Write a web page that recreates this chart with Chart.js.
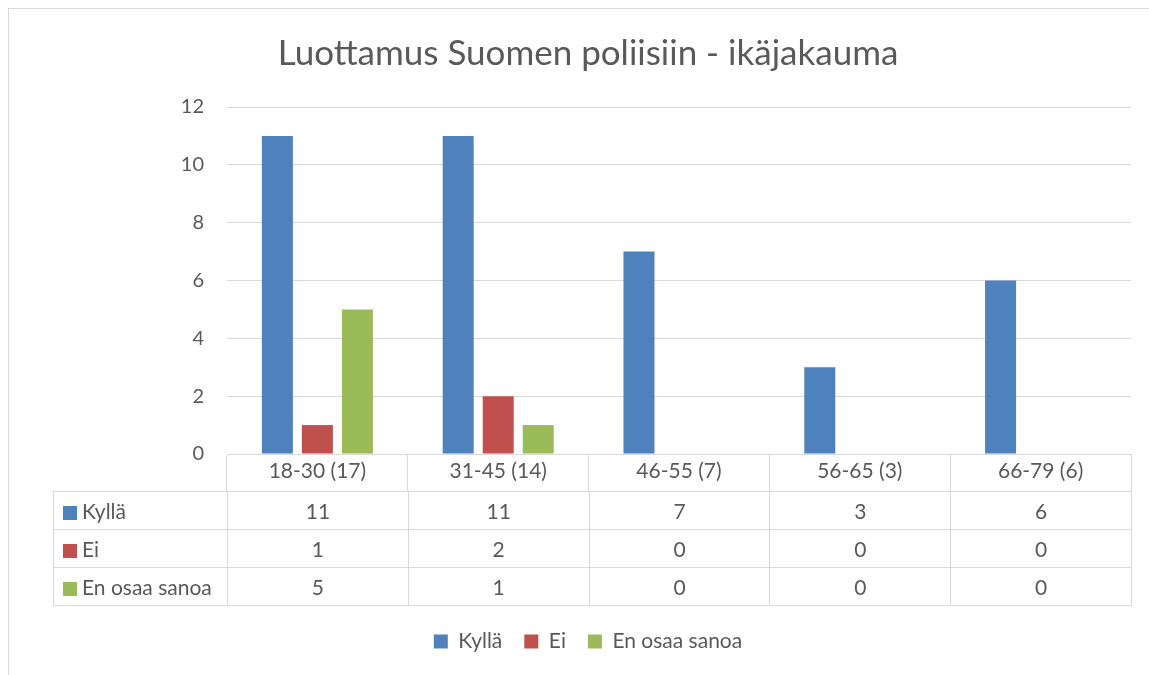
<!DOCTYPE html>
<html>
<head>
<meta charset="utf-8">
<script src="https://cdn.jsdelivr.net/npm/chart.js@4.4.0/dist/chart.umd.min.js"></script>
<style>
  body { margin: 0; background: #fff; overflow: hidden; }
  #wrap { position: relative; width: 1149px; height: 675px; }
  #frame { position: absolute; left: 8px; top: 8px; width: 1200px; height: 700px; border: 1px solid #d9d9d9; box-sizing: border-box; }
  canvas { position: absolute; left: 0; top: 0; }
  #dataTable { position: absolute; left: 53px; top: 491px; border-collapse: collapse; table-layout: fixed;
    font-family: Lato, sans-serif; font-size: 21px; color: #595959; }
  #dataTable td { border: 1px solid #d9d9d9; height: 37px; padding: 0; text-align: center; white-space: nowrap; }
  #dataTable td.name { text-align: left; padding-left: 9px; }
  .swatch { display: inline-block; width: 14px; height: 14px; margin-right: 5px; vertical-align: -1px; }
</style>
</head>
<body>
<div id="wrap">
  <div id="frame"></div>
  <canvas id="chart" width="1149" height="675"></canvas>
  <table id="dataTable"></table>
</div>
<script>
// Data
const categories = ["18-30 (17)", "31-45 (14)", "46-55 (7)", "56-65 (3)", "66-79 (6)"];
const seriesNames = ["Kyllä", "Ei", "En osaa sanoa"];
const kylla = [11, 11, 7, 3, 6];
const ei = [1, 2, 0, 0, 0];
const enOsaaSanoa = [5, 1, 0, 0, 0];
const yTicks = [0, 2, 4, 6, 8, 10, 12];

const seriesValues = [kylla, ei, enOsaaSanoa];
const colors = ["#4f81bd", "#c0504d", "#9bbb59"];
const textColor = "#595959";
const lineColor = "#d9d9d9";

Chart.defaults.font.family = "Lato, sans-serif";
Chart.defaults.color = textColor;

const ctx = document.getElementById("chart").getContext("2d");
new Chart(ctx, {
    type: "bar",
    data: {
        labels: categories,
        datasets: seriesNames.map((name, i) => ({
            label: name,
            data: seriesValues[i],
            backgroundColor: colors[i],
            categoryPercentage: 0.664,
            barPercentage: 0.775
        }))
    },
    options: {
        responsive: false,
        animation: false,
        layout: { padding: { left: 45, right: 18, top: 0, bottom: 13 } },
        plugins: {
            title: {
                display: true,
                text: "Luottamus Suomen poliisiin - ikäjakauma",
                color: textColor,
                font: { size: 35, weight: "normal" },
                padding: { top: 33, bottom: 32 }
            },
            legend: {
                position: "bottom",
                labels: { boxWidth: 14, boxHeight: 14, padding: 22, color: textColor, font: { size: 21 } }
            },
            tooltip: { enabled: false }
        },
        scales: {
            x: {
                grid: { offset: true, drawOnChartArea: false, drawTicks: true, tickLength: 37, color: lineColor },
                border: { display: true, color: lineColor },
                ticks: { padding: -32, color: textColor, font: { size: 21 } },
                afterFit: scale => { scale.height = 155; }
            },
            y: {
                min: 0,
                max: 12,
                afterBuildTicks: scale => { scale.ticks = yTicks.map(v => ({ value: v })); },
                grid: { color: lineColor, drawTicks: false },
                border: { display: false },
                ticks: { padding: 23, color: textColor, font: { size: 20 } },
                afterFit: scale => { scale.width = 182; }
            }
        }
    }
});

// Data table below the axis
const table = document.getElementById("dataTable");
const colgroup = document.createElement("colgroup");
colgroup.innerHTML = '<col style="width:174px">' + categories.map(() => '<col style="width:180.8px">').join("");
table.appendChild(colgroup);
seriesNames.forEach((name, i) => {
    const tr = document.createElement("tr");
    let html = `<td class="name"><span class="swatch" style="background:${colors[i]}"></span>${name}</td>`;
    seriesValues[i].forEach(v => { html += `<td>${v}</td>`; });
    tr.innerHTML = html;
    table.appendChild(tr);
});
</script>
</body>
</html>
